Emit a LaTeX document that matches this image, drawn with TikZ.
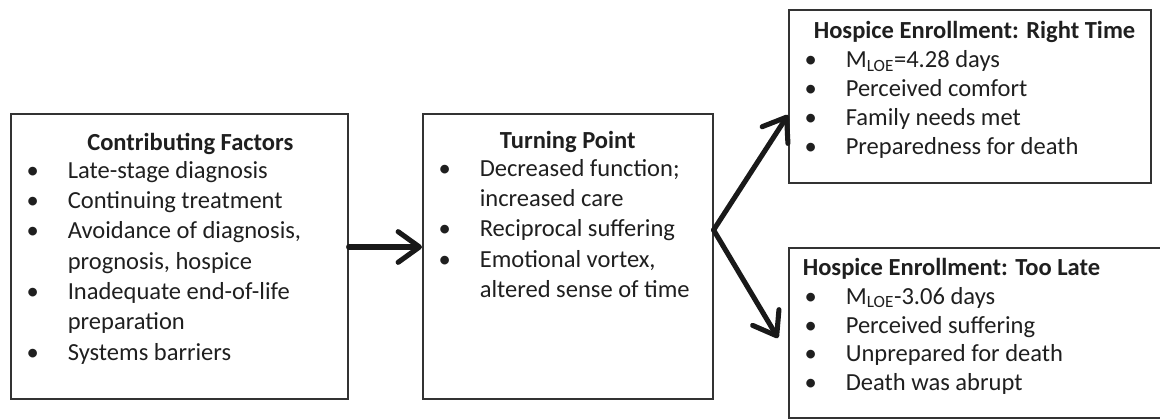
\documentclass[tikz,border=0pt]{standalone}
\usepackage{fontspec}
\setmainfont{Carlito}
\usetikzlibrary{arrows.meta}

\tikzset{
  panel/.style={draw=black!80, line width=1.2pt, inner sep=0pt, anchor=north west, text=black!88},
  flow/.style={draw=black!90, line width=3.8pt, line cap=round,
    -{Straight Barb[length=16pt,width=23pt,round]}},
}
% bullet column and continuation indent
\newcommand{\bul}{\makebox[42.75pt][l]{\hspace*{16.5pt}\makebox[0pt]{\textbullet}}}
\newcommand{\cont}{\hspace*{42.75pt}}
% width, height, first baseline, line pitch, text
\newcommand{\panelbody}[5]{%
  \parbox[c][#2][t]{#1}{\fontsize{18.4pt}{#4}\selectfont\raggedright\rule{0pt}{#3}#5}}

\begin{document}
\begin{tikzpicture}[x=0.75pt,y=0.75pt,yscale=-1,xscale=1]
\useasboundingbox (0,0) rectangle (1160,418);

% Contributing factors
\node[panel] (fac) at (10,113) {\panelbody{252.75pt}{213.75pt}{27.75pt}{22.7pt}{%
  \makebox[252.75pt]{\hspace*{16.5pt}\textbf{Contributing Factors}}\\[-2pt]
  \bul Late-stage diagnosis\\
  \bul Continuing treatment\\
  \bul Avoidance of diagnosis,\\
  \cont prognosis, hospice\\
  \bul Inadequate end-of-life\\
  \cont preparation\\
  \bul Systems barriers}};

% Turning point
\node[panel] (turn) at (422,113) {\panelbody{217.5pt}{213.75pt}{26.25pt}{22.7pt}{%
  \makebox[217.5pt]{\textbf{Turning Point}}\\[-2pt]
  \bul Decreased function;\\
  \cont increased care\\
  \bul Reciprocal suffering\\
  \bul Emotional vortex,\\
  \cont altered sense of time}};

% Hospice enrollment: right time
\node[panel] (right) at (788,9) {\panelbody{271.5pt}{129.75pt}{21.75pt}{21.75pt}{%
  \hspace*{18.75pt}\textbf{Hospice Enrollment: Right Time}\\
  \bul M\textsubscript{LOE}=4.28 days\\
  \bul Perceived comfort\\
  \bul Family needs met\\
  \bul Preparedness for death}};

% Hospice enrollment: too late
\node[panel] (late) at (788,247) {\panelbody{280.5pt}{127.5pt}{21pt}{21.5pt}{%
  \hspace*{10.5pt}\textbf{Hospice Enrollment: Too Late}\\
  \bul M\textsubscript{LOE}-3.06 days\\
  \bul Perceived suffering\\
  \bul Unprepared for death\\
  \bul Death was abrupt}};

\coordinate (fork) at (turn.east |- 0,230);
\coordinate (lateTip) at (778,338);

\draw[flow] (fac.east |- 0,247) -- (turn.west |- 0,247);
\draw[flow] (fork) -- (right.west |- 0,115);
\draw[flow] (fork) -- (lateTip);

\end{tikzpicture}
\end{document}
